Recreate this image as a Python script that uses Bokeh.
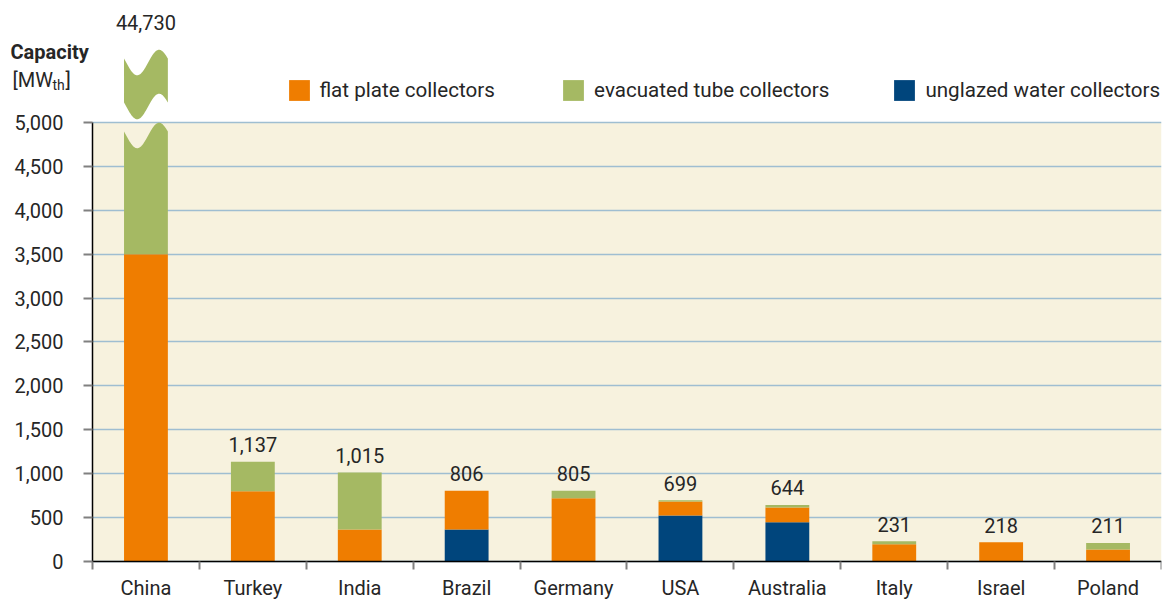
import numpy as np
from bokeh.plotting import figure
from bokeh.models import (Range1d, FixedTicker, NumeralTickFormatter, BoxAnnotation,
                          Legend, LegendItem, Label, ColumnDataSource)
from bokeh.core.properties import value
from bokeh.embed import file_html
from bokeh.resources import INLINE

# ---------------- data ----------------
countries = ["China", "Turkey", "India", "Brazil", "Germany", "USA",
             "Australia", "Italy", "Israel", "Poland"]
unglazed = [0, 0, 0, 365, 0, 523, 448, 0, 0, 0]
flat_plate = [3500, 800, 365, 441, 720, 160, 167, 197, 218, 137]
evacuated = [41230, 337, 650, 0, 85, 16, 29, 34, 0, 74]
totals = [44730, 1137, 1015, 806, 805, 699, 644, 231, 218, 211]
y_ticks = [0, 500, 1000, 1500, 2000, 2500, 3000, 3500, 4000, 4500, 5000]
series_names = ["flat plate collectors", "evacuated tube collectors", "unglazed water collectors"]

# ---------------- style ----------------
ORANGE = "#ef7d00"
GREEN = "#a5b963"
BLUE = "#00457c"
BEIGE = "#f7f2de"
GRID = "#9fbed1"
TEXT = "#262626"
FONT = "Roboto"
AXIS_MAX = 5000
BAR_W = 0.41
# broken-bar decoration (value units)
LOWER_TOP = 4852
UPPER_BOTTOM = 5182
UPPER_TOP = 5683
AMP = 145

n = len(countries)
xs = np.arange(n) + 0.5
u = np.array(unglazed, dtype=float)
f = np.array(flat_plate, dtype=float)
e = np.array(evacuated, dtype=float)
tot = np.array(totals, dtype=float)
broken = tot > AXIS_MAX
e_disp = np.where(broken, 0.0, e)

src = ColumnDataSource(dict(
    x=xs,
    b1=np.zeros(n), t1=u,
    b2=u, t2=u + f,
    b3=u + f, t3=u + f + e_disp,
))

p = figure(width=1163, height=599,
           x_range=Range1d(-0.8606, n), y_range=Range1d(-432.8, 6389.5),
           min_border_left=0, min_border_right=2, min_border_top=0, min_border_bottom=0,
           output_backend="svg", toolbar_location=None)
p.outline_line_color = None
p.background_fill_color = "white"
p.border_fill_color = "white"

p.add_layout(BoxAnnotation(bottom=0, top=AXIS_MAX, left=0, right=n, fill_color=BEIGE,
                           fill_alpha=1, line_alpha=0, level="image"))

r_ungl = p.vbar(x="x", bottom="b1", top="t1", width=BAR_W, source=src,
                fill_color=BLUE, line_color=None)
r_flat = p.vbar(x="x", bottom="b2", top="t2", width=BAR_W, source=src,
                fill_color=ORANGE, line_color=None)
r_evac = p.vbar(x="x", bottom="b3", top="t3", width=BAR_W, source=src,
                fill_color=GREEN, line_color=None)

# broken bars (values beyond the axis)
t = np.linspace(0, 1, 80)
wave = np.sin(2 * np.pi * (t - 0.05))
pxs, pys = [], []
for i in np.where(broken)[0]:
    bx = xs[i] - BAR_W / 2 + BAR_W * t
    base = u[i] + f[i]
    lower_top = LOWER_TOP - AMP * wave
    pxs.append(list(bx) + [bx[-1], bx[0]])
    pys.append(list(lower_top) + [base, base])
    up_top = UPPER_TOP - AMP * wave
    up_bot = UPPER_BOTTOM - AMP * wave
    pxs.append(list(bx) + list(bx[::-1]))
    pys.append(list(up_top) + list(up_bot[::-1]))
p.patches(pxs, pys, fill_color=GREEN, line_color=None)

# value labels
lab = [f"{int(v):,}" for v in totals]
nb = ~broken
p.text(x=xs[nb], y=tot[nb], text=[l for l, b in zip(lab, nb) if b],
       text_align="center", text_baseline="alphabetic", y_offset=-17,
       text_font=value(FONT), text_font_size="20px", text_color=TEXT)
p.text(x=xs[broken], y=[UPPER_TOP + AMP] * int(broken.sum()),
       text=[l for l, b in zip(lab, broken) if b],
       text_align="center", text_baseline="alphabetic", y_offset=-27,
       text_font=value(FONT), text_font_size="20px", text_color=TEXT)

# grid
p.xgrid.visible = False
p.ygrid.ticker = FixedTicker(ticks=y_ticks)
p.ygrid.grid_line_color = GRID
p.ygrid.grid_line_width = 1.5
p.ygrid.cross_bounds = (0, n)

# y axis
ya = p.yaxis[0]
ya.fixed_location = 0
ya.ticker = FixedTicker(ticks=y_ticks)
ya.formatter = NumeralTickFormatter(format="0,0")
ya.bounds = (0, AXIS_MAX)
ya.axis_line_color = "black"
ya.axis_line_width = 1.5
ya.major_tick_in = 0
ya.major_tick_out = 9
ya.major_tick_line_color = "#808080"
ya.major_tick_line_width = 2
ya.minor_tick_line_color = None
ya.major_label_standoff = 20
ya.major_label_text_font = FONT
ya.major_label_text_font_size = "20px"
ya.major_label_text_color = TEXT

# x axis
xa = p.xaxis[0]
xa.fixed_location = 0
xa.ticker = FixedTicker(ticks=list(xs), minor_ticks=list(range(n + 1)))
xa.major_label_overrides = {float(x): c for x, c in zip(xs, countries)}
xa.bounds = (0, n)
xa.axis_line_color = "black"
xa.axis_line_width = 1.5
xa.major_tick_in = 0
xa.major_tick_out = 0
xa.major_tick_line_color = None
xa.minor_tick_in = 0
xa.minor_tick_out = 8
xa.minor_tick_line_color = "#808080"
xa.minor_tick_line_width = 2
xa.major_label_standoff = 6
xa.major_label_text_font = FONT
xa.major_label_text_font_size = "20px"
xa.major_label_text_color = TEXT

# axis title
for txt, x, y, size, style in [("Capacity", 10, 548, "20px", "bold"),
                               ("[MW", 12, 520, "20px", "normal"),
                               ("th", 52, 515, "14px", "normal"),
                               ("]", 65, 520, "20px", "normal")]:
    p.add_layout(Label(x=x, y=y, x_units="screen", y_units="screen", text=txt,
                       text_font=FONT, text_font_size=size, text_font_style=style,
                       text_color=TEXT, text_baseline="alphabetic"))

# legends
for r, name, vx, standoff in [(r_flat, series_names[0], 286.4, 7),
                              (r_evac, series_names[1], 560.1, 8),
                              (r_ungl, series_names[2], 891.4, 8)]:
    lg = Legend(items=[LegendItem(label=name, renderers=[r])], location=(vx, 495.6),
                orientation="horizontal", padding=0, margin=0, spacing=0,
                border_line_alpha=0, background_fill_alpha=0,
                glyph_width=26, glyph_height=26, label_height=26,
                label_standoff=standoff, label_text_font=FONT,
                label_text_font_size="20.6px", label_text_color=TEXT)
    p.add_layout(lg)

open("out.html", "w").write(file_html(p, INLINE, title="Solar thermal capacity"))
